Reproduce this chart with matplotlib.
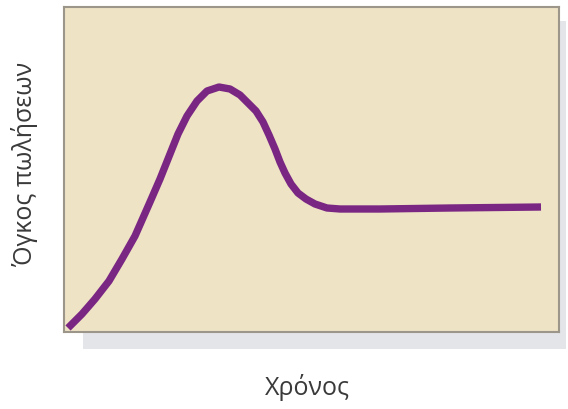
import matplotlib
matplotlib.use("Agg")
import matplotlib.pyplot as plt
from matplotlib.patches import Rectangle

# Curve (time, sales volume), arbitrary units
time = [4, 18, 31, 45, 58, 71, 86, 96, 106, 114, 123, 133, 143, 155, 166, 176,
        183, 192, 199, 205, 211, 216, 221, 227, 234, 242, 251, 263, 276, 316, 386, 477]
sales = [4, 18, 33, 51, 73, 96, 130, 153, 178, 198, 216, 231, 241, 245, 243, 237,
         230, 221, 210, 197, 183, 170, 159, 148, 139, 133, 128, 124, 123, 123, 124, 125]

x_label = "Χρόνος"
y_label = "Όγκος πωλήσεων"

W, H = 568, 410
fig = plt.figure(figsize=(W / 100, H / 100), dpi=100)
fig.patch.set_facecolor("white")

# shadow behind the panel
shadow = Rectangle((83 / W, 1 - 350 / H), (566 - 83) / W, (350 - 22) / H,
                   transform=fig.transFigure, facecolor="#E4E5E9", edgecolor="none", zorder=0)
fig.patches.append(shadow)

ax = fig.add_axes([64 / W, 1 - 333 / H, (559 - 64) / W, (333 - 8) / H])
ax.set_zorder(2)
ax.set_facecolor("#EEE3C5")
ax.plot(time, sales, color="#7A2683", lw=5.3, solid_capstyle="butt", solid_joinstyle="round")
ax.set_xlim(0, 495)
ax.set_ylim(0, 325)
ax.set_xticks([])
ax.set_yticks([])
for s in ax.spines.values():
    s.set_color("#9C968A")
    s.set_linewidth(1.5)

fig.text(307 / W, 1 - 388 / H, x_label, ha="center", va="center",
         fontsize=18, color="#3A3A3A", family=["Open Sans", "DejaVu Sans"])
fig.text(25 / W, 1 - 164 / H, y_label, ha="center", va="center", rotation=90,
         fontsize=18, color="#3A3A3A", family=["Open Sans", "DejaVu Sans"])

fig.savefig("out.png", dpi=100)
